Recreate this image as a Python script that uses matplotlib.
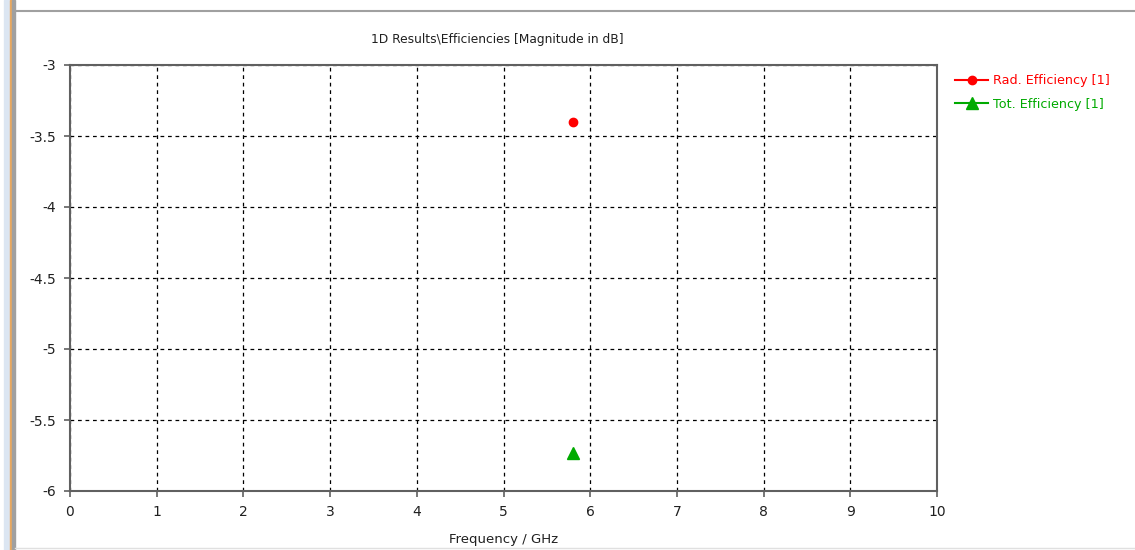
import matplotlib.pyplot as plt
from matplotlib.lines import Line2D
from matplotlib.patches import Rectangle

# data
freq_ghz = [5.8]
rad_eff_db = [-3.40]
tot_eff_db = [-5.73]
x_ticks = [0, 1, 2, 3, 4, 5, 6, 7, 8, 9, 10]
y_ticks = [-6, -5.5, -5, -4.5, -4, -3.5, -3]
y_tick_labels = ["-6", "-5.5", "-5", "-4.5", "-4", "-3.5", "-3"]

plt.rcParams["font.family"] = ["DejaVu Sans"]

W, H = 1135, 550
fig = plt.figure(figsize=(W / 100, H / 100), dpi=100)

# window frame on the left and top
for x0, w, c in [(4, 6, "#dce6f2"), (10, 2, "#e8a860"), (12, 3, "#a0a0a0")]:
    fig.patches.append(Rectangle((x0 / W, 0), w / W, 1, transform=fig.transFigure,
                                 color=c, zorder=0))
fig.add_artist(Line2D([15 / W, 1], [1 - 10.5 / H, 1 - 10.5 / H], color="#a0a0a0", lw=1.5))
fig.add_artist(Line2D([15 / W, 1], [1 - 548 / H, 1 - 548 / H], color="#e0e0e0", lw=1))

left, right, top, bottom = 70, 937, 65, 491
ax = fig.add_axes([left / W, 1 - bottom / H, (right - left) / W, (bottom - top) / H])

ax.plot(freq_ghz, rad_eff_db, marker="o", color="#ff0000", ms=6, ls="-", lw=1.5,
        label="Rad. Efficiency [1]", clip_on=False, zorder=3)
ax.plot(freq_ghz, tot_eff_db, marker="^", color="#00aa00", ms=8, ls="-", lw=1.5,
        label="Tot. Efficiency [1]", clip_on=False, zorder=3)

ax.set_xlim(0, 10)
ax.set_ylim(-6, -3)
ax.set_xticks(x_ticks)
ax.set_yticks(y_ticks)
ax.set_yticklabels(y_tick_labels)
ax.grid(True, color="black", ls=(0, (3, 3)), lw=0.9)
ax.set_axisbelow(True)
for s in ax.spines.values():
    s.set_color("#606060")
    s.set_linewidth(1.5)
ax.tick_params(direction="out", length=4, width=1.2, color="#606060",
               labelsize=10, pad=6, labelcolor="#202020")

ax.set_xlabel("Frequency / GHz", fontsize=9.5, labelpad=10, color="#202020")
fig.text(((left + right) / 2 - 6) / W, 1 - 40 / H, "1D Results\\Efficiencies [Magnitude in dB]",
         ha="center", va="center", fontsize=8.8, color="#202020")

leg = ax.legend(loc="upper left", bbox_to_anchor=(1 + 18 / (right - left), 0.978),
                frameon=False, fontsize=9.2, handlelength=2.6, handletextpad=0.35,
                labelspacing=0.8, borderaxespad=0, borderpad=0)
for txt, c in zip(leg.get_texts(), ["#ff0000", "#00aa00"]):
    txt.set_color(c)

fig.savefig("out.png", dpi=100)
